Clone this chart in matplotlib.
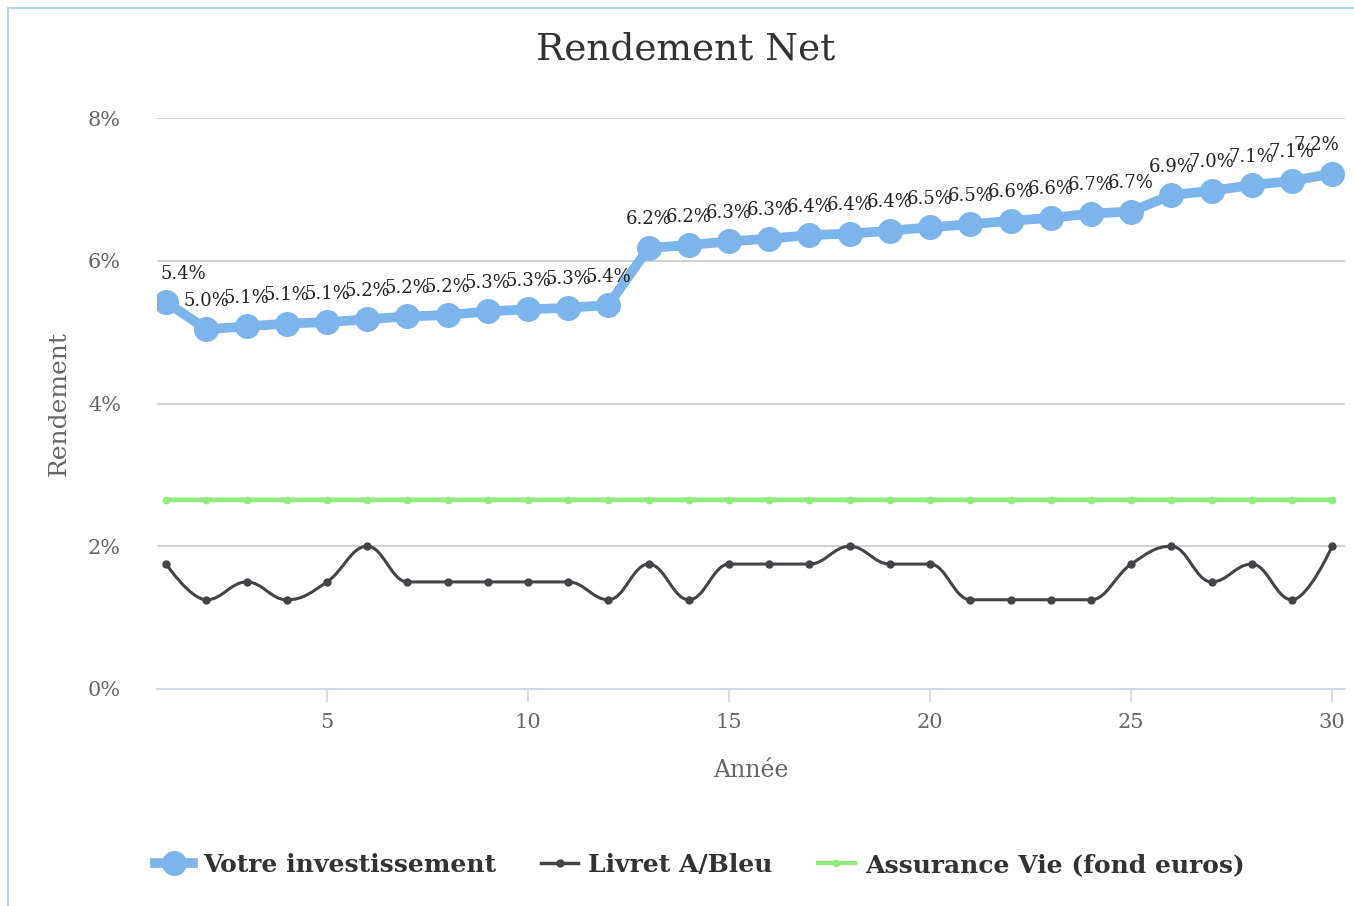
import matplotlib
matplotlib.use("Agg")
import matplotlib.pyplot as plt
from matplotlib.path import Path
from matplotlib.patches import PathPatch
from matplotlib.lines import Line2D
import numpy as np

plt.rcParams['font.family'] = ['DejaVu Serif']

years = list(range(1, 31))
votre = [5.42, 5.04, 5.08, 5.12, 5.14, 5.18, 5.22, 5.24, 5.29, 5.32,
         5.34, 5.38, 6.18, 6.22, 6.27, 6.31, 6.36, 6.38, 6.42, 6.47,
         6.51, 6.56, 6.60, 6.66, 6.69, 6.92, 6.98, 7.06, 7.12, 7.22]
livret = [1.75, 1.25, 1.5, 1.25, 1.5, 2.0, 1.5, 1.5, 1.5, 1.5,
          1.5, 1.25, 1.75, 1.25, 1.75, 1.75, 1.75, 2.0, 1.75, 1.75,
          1.25, 1.25, 1.25, 1.25, 1.75, 2.0, 1.5, 1.75, 1.25, 2.0]
assurance = [2.65, 2.65, 2.65, 2.65, 2.65, 2.65, 2.65, 2.65, 2.65, 2.65,
             2.65, 2.65, 2.65, 2.65, 2.65, 2.65, 2.65, 2.65, 2.65, 2.65,
             2.65, 2.65, 2.65, 2.65, 2.65, 2.65, 2.65, 2.65, 2.65, 2.65]
series_names = ["Votre investissement", "Livret A/Bleu", "Assurance Vie (fond euros)"]
yticks = [0, 2, 4, 6, 8]
xticks = [5, 10, 15, 20, 25, 30]

C_BLUE = "#7cb5ec"
C_DARK = "#434348"
C_GREEN = "#90ed7d"


def spline_path(xs, ys, smoothing=1.5):
    n = len(xs)
    denom = smoothing + 1
    lc = [None] * n
    rc = [None] * n
    for i in range(n):
        x, y = xs[i], ys[i]
        if 0 < i < n - 1:
            lx, ly = xs[i - 1], ys[i - 1]
            nx, ny = xs[i + 1], ys[i + 1]
            lcx = (smoothing * x + lx) / denom
            lcy = (smoothing * y + ly) / denom
            rcx = (smoothing * x + nx) / denom
            rcy = (smoothing * y + ny) / denom
            corr = 0
            if rcx != lcx:
                corr = ((rcy - lcy) * (rcx - x)) / (rcx - lcx) + y - rcy
            lcy += corr
            rcy += corr
            if lcy > ly and lcy > y:
                lcy = max(ly, y); rcy = 2 * y - lcy
            elif lcy < ly and lcy < y:
                lcy = min(ly, y); rcy = 2 * y - lcy
            if rcy > ny and rcy > y:
                rcy = max(ny, y); lcy = 2 * y - rcy
            elif rcy < ny and rcy < y:
                rcy = min(ny, y); lcy = 2 * y - rcy
            lc[i] = (lcx, lcy)
            rc[i] = (rcx, rcy)
        else:
            lc[i] = (x, y)
            rc[i] = (x, y)
    verts = [(xs[0], ys[0])]
    codes = [Path.MOVETO]
    for i in range(1, n):
        verts += [rc[i - 1], lc[i], (xs[i], ys[i])]
        codes += [Path.CURVE4] * 3
    return Path(verts, codes)


fig = plt.figure(figsize=(13.54, 9.06), dpi=100)
ax = fig.add_axes([157 / 1354, 1 - 689 / 906, (1345 - 157) / 1354, (689 - 118) / 906])

ax.set_xlim(0.77, 30.32)
ax.set_ylim(0, 8)

# grid
ax.set_yticks(yticks)
ax.set_yticklabels([f"{t}%" for t in yticks])
ax.yaxis.grid(True, color="#c8c8c8", linewidth=1.2)
ax.set_axisbelow(True)
ax.set_xticks(xticks)
ax.set_xticklabels([str(t) for t in xticks])
for s in ["top", "right", "left"]:
    ax.spines[s].set_visible(False)
ax.spines["bottom"].set_color("#ccd6eb")
ax.spines["bottom"].set_linewidth(1.2)
ax.tick_params(axis="y", length=0, pad=26, labelsize=15, labelcolor="#666666")
ax.tick_params(axis="x", length=9, width=1.2, color="#ccd6eb", pad=8,
               labelsize=15, labelcolor="#666666")

# green (spline)
p = PathPatch(spline_path(years, assurance), facecolor="none", edgecolor=C_GREEN,
              linewidth=3.5, zorder=3)
ax.add_patch(p)
ax.plot(years, assurance, linestyle="none", marker="o", markersize=4.5,
        color=C_GREEN, zorder=4)

# dark (spline)
p = PathPatch(spline_path(years, livret), facecolor="none", edgecolor=C_DARK,
              linewidth=2.2, zorder=3)
ax.add_patch(p)
ax.plot(years, livret, linestyle="none", marker="o", markersize=5,
        color=C_DARK, zorder=4)

# blue (straight)
ax.plot(years, votre, color=C_BLUE, linewidth=7, marker="o", markersize=17,
        solid_joinstyle="round", zorder=5)
n = len(years)
for i, (x, v) in enumerate(zip(years, votre)):
    if i == 0:
        ha, dx = "left", -4
    elif i == n - 1:
        ha, dx = "right", 5
    else:
        ha, dx = "center", 0
    ax.annotate(f"{v:.1f}%", (x, v), xytext=(dx, 14), textcoords="offset points",
                ha=ha, va="bottom", fontsize=13, color="#222222", zorder=6)

fig.text(686 / 1354, 1 - 50 / 906, "Rendement Net", fontsize=27, color="#333333",
         ha="center", va="center")
ax.set_xlabel("Année", fontsize=17, color="#666666", labelpad=20)
ax.set_ylabel("Rendement", fontsize=18, color="#666666", labelpad=12)

# legend
handles = [
    Line2D([], [], color=C_BLUE, linewidth=7, marker="o", markersize=17),
    Line2D([], [], color=C_DARK, linewidth=2.5, marker="o", markersize=5),
    Line2D([], [], color=C_GREEN, linewidth=3, marker="o", markersize=4.5),
]
leg = fig.legend(handles, series_names, loc="center", bbox_to_anchor=(0.517, 1 - 865 / 906),
                 ncol=3, frameon=False, handlelength=1.5, columnspacing=1.8,
                 handletextpad=0.4, prop={"weight": "bold", "size": 18})
for t in leg.get_texts():
    t.set_color("#333333")

# frame border (top and left visible)
fig.add_artist(Line2D([8 / 1354, 8 / 1354], [0, 1 - 8 / 906], transform=fig.transFigure,
                      color="#add8e6", linewidth=1.5))
fig.add_artist(Line2D([8 / 1354, 1], [1 - 8 / 906, 1 - 8 / 906], transform=fig.transFigure,
                      color="#add8e6", linewidth=1.5))

fig.savefig("out.png", dpi=100)
